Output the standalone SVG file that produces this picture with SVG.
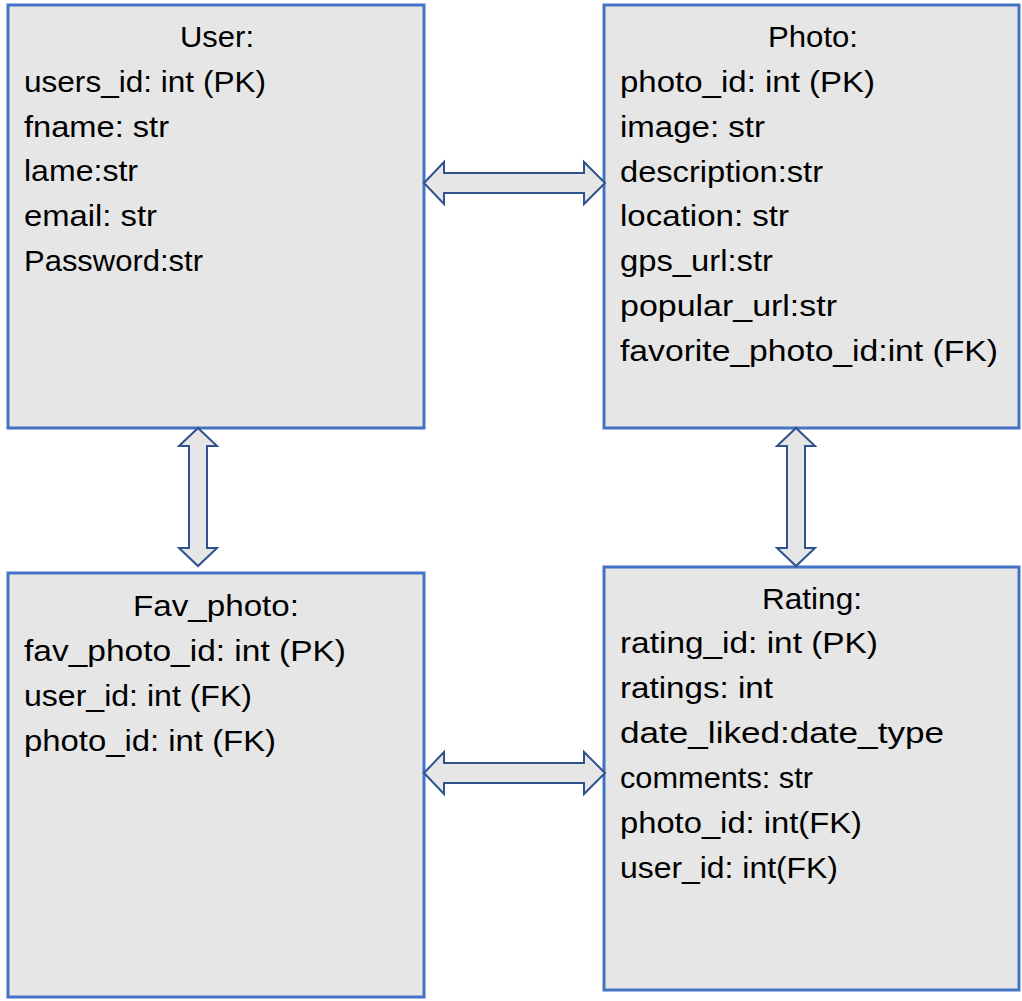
<svg xmlns="http://www.w3.org/2000/svg" width="1022" height="1001" viewBox="0 0 1022 1001">
<style>
.box{fill:#E6E6E6;stroke:#4472C4;stroke-width:3}
.arr{fill:#E6E6E6;stroke:#2F528F;stroke-width:2;stroke-linejoin:miter}
text{font-family:"Liberation Sans",Arial,sans-serif;font-size:29px;fill:#000}
.t{text-anchor:middle}
</style>
<rect width="1022" height="1001" fill="#fff"/>
<g id="user">
<rect class="box" x="8" y="5" width="416" height="423"/>
<text class="t" x="217" y="47" textLength="74" lengthAdjust="spacingAndGlyphs">User:</text>
<text x="24" y="92" textLength="242" lengthAdjust="spacingAndGlyphs">users_id: int (PK)</text>
<text x="24" y="137" textLength="145" lengthAdjust="spacingAndGlyphs">fname: str</text>
<text x="24" y="181" textLength="114" lengthAdjust="spacingAndGlyphs">lame:str</text>
<text x="24" y="226" textLength="133" lengthAdjust="spacingAndGlyphs">email: str</text>
<text x="24" y="271" textLength="179" lengthAdjust="spacingAndGlyphs">Password:str</text>
</g>
<g id="photo">
<rect class="box" x="604" y="5" width="415" height="423"/>
<text class="t" x="813" y="47" textLength="90" lengthAdjust="spacingAndGlyphs">Photo:</text>
<text x="620" y="92" textLength="255" lengthAdjust="spacingAndGlyphs">photo_id: int (PK)</text>
<text x="620" y="137" textLength="145" lengthAdjust="spacingAndGlyphs">image: str</text>
<text x="620" y="182" textLength="203" lengthAdjust="spacingAndGlyphs">description:str</text>
<text x="620" y="226" textLength="169" lengthAdjust="spacingAndGlyphs">location: str</text>
<text x="620" y="271" textLength="153" lengthAdjust="spacingAndGlyphs">gps_url:str</text>
<text x="620" y="316" textLength="217" lengthAdjust="spacingAndGlyphs">popular_url:str</text>
<text x="620" y="361" textLength="378" lengthAdjust="spacingAndGlyphs">favorite_photo_id:int (FK)</text>
</g>
<g id="fav_photo">
<rect class="box" x="8" y="573" width="416" height="424"/>
<text class="t" x="216" y="616" textLength="166" lengthAdjust="spacingAndGlyphs">Fav_photo:</text>
<text x="24" y="661" textLength="322" lengthAdjust="spacingAndGlyphs">fav_photo_id: int (PK)</text>
<text x="24" y="706" textLength="228" lengthAdjust="spacingAndGlyphs">user_id: int (FK)</text>
<text x="24" y="751" textLength="252" lengthAdjust="spacingAndGlyphs">photo_id: int (FK)</text>
</g>
<g id="rating">
<rect class="box" x="604" y="567" width="415" height="423"/>
<text class="t" x="812" y="609" textLength="100" lengthAdjust="spacingAndGlyphs">Rating:</text>
<text x="620" y="653" textLength="258" lengthAdjust="spacingAndGlyphs">rating_id: int (PK)</text>
<text x="620" y="698" textLength="153" lengthAdjust="spacingAndGlyphs">ratings: int</text>
<text x="620" y="743" textLength="324" lengthAdjust="spacingAndGlyphs">date_liked:date_type</text>
<text x="620" y="788" textLength="193" lengthAdjust="spacingAndGlyphs">comments: str</text>
<text x="620" y="833" textLength="242" lengthAdjust="spacingAndGlyphs">photo_id: int(FK)</text>
<text x="620" y="878" textLength="218" lengthAdjust="spacingAndGlyphs">user_id: int(FK)</text>
</g>
<g id="connectors">
<path class="arr" d="M424,183 L444,162 L444,173 L584,173 L584,162 L605,183 L584,204 L584,193 L444,193 L444,204 Z"/>
<path class="arr" d="M424,773 L444,752 L444,763 L584,763 L584,752 L605,773 L584,794 L584,783 L444,783 L444,794 Z"/>
<path class="arr" d="M198,428 L217,446 L207,446 L207,548 L217,548 L198,566 L179,548 L189,548 L189,446 L179,446 Z"/>
<path class="arr" d="M796,428 L815,446 L805,446 L805,548 L815,548 L796,566 L777,548 L787,548 L787,446 L777,446 Z"/>
</g>
</svg>
